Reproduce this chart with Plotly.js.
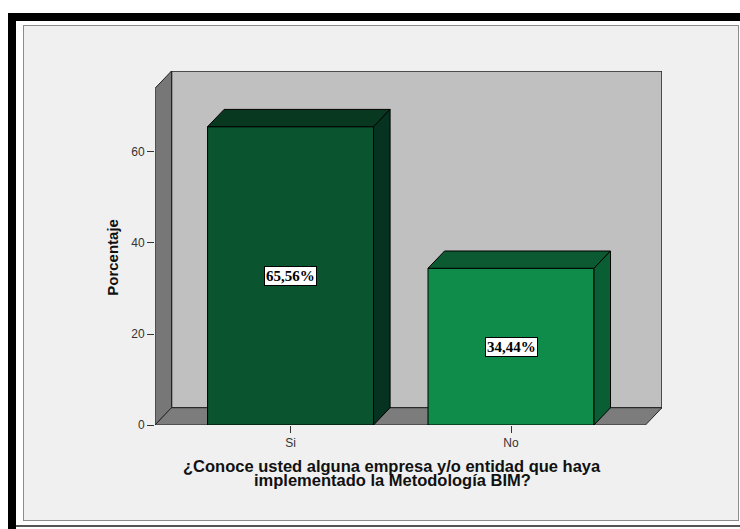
<!DOCTYPE html>
<html>
<head>
<meta charset="utf-8">
<script src="https://cdn.plot.ly/plotly-3.0.1.min.js"></script>
<style>
  html, body { margin: 0; padding: 0; background: #ffffff; }
  body { width: 740px; height: 529px; position: relative; overflow: hidden; }
  .frame-top { position: absolute; left: 8px; top: 13px; width: 732px; height: 8px; background: #000; }
  .frame-left { position: absolute; left: 8px; top: 13px; width: 8px; height: 516px; background: #000; }
  .frame-bottom { position: absolute; left: 16px; top: 525px; width: 724px; height: 2px; background: #555; }
  #chart { position: absolute; left: 23px; top: 25px; width: 714px; height: 494px;
           border: 1px solid #8c8c8c; }
</style>
</head>
<body>
<div class="frame-top"></div>
<div class="frame-left"></div>
<div class="frame-bottom"></div>
<div id="chart"></div>
<script>
// Survey answers and their percentages
const categories = ['Si', 'No'];
const percentages = [65.56, 34.44];
const yTickValues = [0, 20, 40, 60];
const yTickLabels = ['0', '20', '40', '60'];
const xTitleLines = ['¿Conoce usted alguna empresa y/o entidad que haya',
                     'implementado la Metodología BIM?'];
const yTitle = 'Porcentaje';

// Face colours per bar: front, top, right side
const frontColors = ['#0a5430', '#108c4a'];
const topColors = ['#083820', '#0b5a31'];
const sideColors = ['#063220', '#0a5e34'];

// Pseudo-3D box geometry (axis units)
const BAR_W = 0.753;
const DX = 0.075;     // depth offset, x
const DY = 3.8;       // depth offset, y
const X0 = -0.615;    // front-left edge of the box
const X1 = 1.61;      // front-right edge of the floor
const TOP = 74;       // top of the front axis

const sans = 'Liberation Sans, Arial, sans-serif';
const positions = categories.map((c, i) => i);

const traces = [];

// Front faces of the bars
traces.push({
  type: 'bar',
  x: positions,
  y: percentages,
  width: BAR_W,
  marker: { color: frontColors, line: { color: '#000', width: 1 } },
  hoverinfo: 'skip',
  showlegend: false
});

// Top and right-side faces of each bar
positions.forEach((xi, i) => {
  const v = percentages[i];
  const l = xi - BAR_W / 2, r = xi + BAR_W / 2;
  traces.push({
    type: 'scatter', mode: 'lines', fill: 'toself',
    x: [l, l + DX, r + DX, r, l],
    y: [v, v + DY, v + DY, v, v],
    fillcolor: topColors[i], line: { color: '#000', width: 1 },
    hoverinfo: 'skip', showlegend: false
  });
  traces.push({
    type: 'scatter', mode: 'lines', fill: 'toself',
    x: [r, r + DX, r + DX, r, r],
    y: [0, DY, v + DY, v, 0],
    fillcolor: sideColors[i], line: { color: '#000', width: 1 },
    hoverinfo: 'skip', showlegend: false
  });
});

// Back wall, left wall and floor of the box
const shapes = [
  { type: 'rect', xref: 'x', yref: 'y', layer: 'below',
    x0: X0 + DX, x1: X1 + DX, y0: DY, y1: TOP + DY,
    fillcolor: '#c0c0c0', line: { color: '#262626', width: 1.5 } },
  { type: 'path', xref: 'x', yref: 'y', layer: 'below',
    path: `M ${X0},0 L ${X0 + DX},${DY} L ${X0 + DX},${TOP + DY} L ${X0},${TOP} Z`,
    fillcolor: '#777777', line: { color: '#262626', width: 1 } },
  { type: 'path', xref: 'x', yref: 'y', layer: 'below',
    path: `M ${X0},0 L ${X1},0 L ${X1 + DX},${DY} L ${X0 + DX},${DY} Z`,
    fillcolor: '#7c7c7c', line: { color: '#262626', width: 1 } }
];

// Value labels in the middle of each bar
const annotations = positions.map((xi, i) => ({
  x: xi, y: percentages[i] / 2, xref: 'x', yref: 'y',
  text: percentages[i].toFixed(2).replace('.', ',') + '%',
  showarrow: false,
  font: { family: 'Liberation Serif, Times New Roman, serif', size: 15, color: '#000', weight: 'bold' },
  bgcolor: '#ffffff', bordercolor: '#000', borderwidth: 1, borderpad: 1
}));

// Axis titles
annotations.push({
  xref: 'paper', yref: 'paper', x: -0.083, y: 0.475,
  text: '<b>' + yTitle + '</b>', textangle: -90, showarrow: false,
  xanchor: 'center', yanchor: 'middle',
  font: { family: sans, size: 15, color: '#111' }
});
xTitleLines.forEach((line, k) => {
  annotations.push({
    xref: 'paper', yref: 'paper', x: 0.468, y: -0.116 - k * 0.0405,
    text: '<b>' + line + '</b>', showarrow: false,
    xanchor: 'center', yanchor: 'middle',
    font: { family: sans, size: 16.5, color: '#111' }
  });
});

const layout = {
  width: 714, height: 494,
  margin: { l: 131, r: 76, t: 45, b: 95, pad: 0 },
  paper_bgcolor: '#f0f0f0',
  plot_bgcolor: 'rgba(0,0,0,0)',
  showlegend: false,
  bargap: 0,
  xaxis: {
    type: 'linear', range: [X0, X1 + DX],
    tickvals: positions, ticktext: categories,
    ticks: 'outside', ticklen: 7, tickcolor: '#333', tickwidth: 1,
    showgrid: false, zeroline: false, showline: false,
    tickfont: { family: sans, size: 12, color: '#333' },
    fixedrange: true
  },
  yaxis: {
    range: [0, TOP + DY],
    tickvals: yTickValues, ticktext: yTickLabels,
    ticks: 'outside', ticklen: 7, tickcolor: '#333', tickwidth: 1,
    showgrid: false, zeroline: false, showline: false,
    tickfont: { family: sans, size: 12, color: '#333' },
    fixedrange: true
  },
  shapes: shapes,
  annotations: annotations
};

Plotly.newPlot('chart', traces, layout, { staticPlot: true, displayModeBar: false });
</script>
</body>
</html>
